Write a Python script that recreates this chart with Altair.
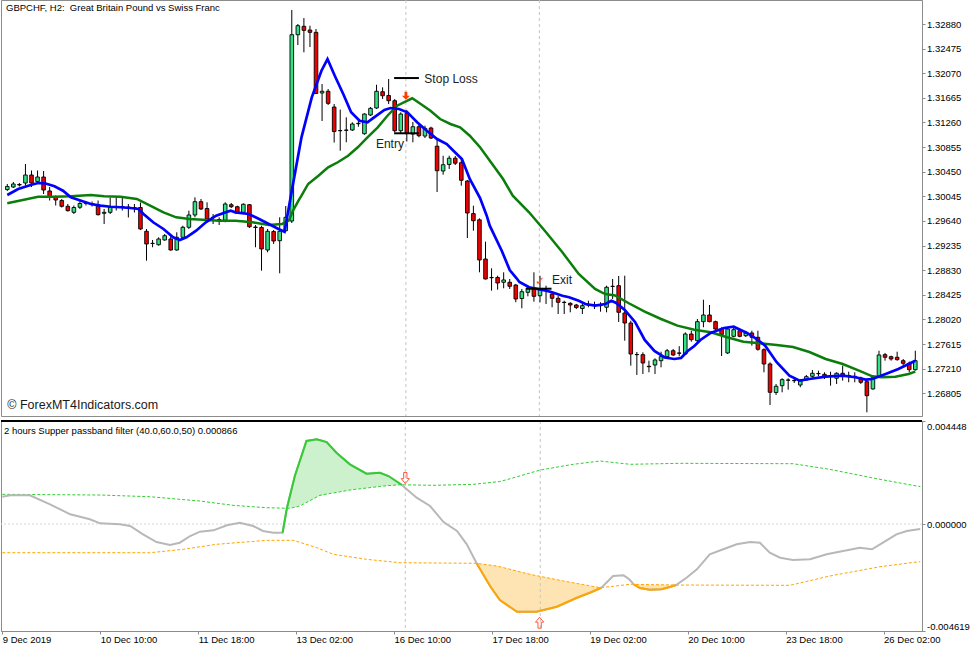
import json
import altair as alt
import pandas as pd

# ---------------- data ----------------
bars = list(range(151))

open_ = [1.30157, 1.30198, 1.30240, 1.30264, 1.30396, 1.30289, 1.30363, 1.30133, 1.30026, 1.29976,
         1.29881, 1.29782, 1.29865, 1.29927, 1.29927, 1.29891, 1.29766, 1.29782, 1.29869, 1.29878,
         1.29869, 1.29861, 1.29861, 1.29470, 1.29269, 1.29249, 1.29327, 1.29343, 1.29162, 1.29371,
         1.29536, 1.29738, 1.29957, 1.29845, 1.29697, 1.29664, 1.29651, 1.29907, 1.29874, 1.29782,
         1.29907, 1.29540, 1.29532, 1.29162, 1.29466, 1.29315, 1.29480, 1.29639, 1.32704, 1.32842,
         1.32781, 1.32743, 1.31745, 1.31773, 1.31514, 1.31128, 1.31131, 1.31136, 1.31240, 1.31075,
         1.31383, 1.31498, 1.31766, 1.31704, 1.31618, 1.31124, 1.31411, 1.31070, 1.31190, 1.31037,
         1.31169, 1.30870, 1.30462, 1.30569, 1.30672, 1.30598, 1.30297, 1.29761, 1.29659, 1.29014,
         1.28710, 1.28710, 1.28631, 1.28631, 1.28586, 1.28364, 1.28466, 1.28521, 1.28410, 1.28496,
         1.28438, 1.28368, 1.28302, 1.28285, 1.28257, 1.28200, 1.28257, 1.28257, 1.28249, 1.28220,
         1.28562, 1.28575, 1.28126, 1.27961, 1.27443, 1.27440, 1.27249, 1.27270, 1.27341, 1.27407,
         1.27505, 1.27468, 1.27451, 1.27780, 1.27670, 1.27983, 1.28093, 1.27983, 1.27862, 1.27468,
         1.27742, 1.27834, 1.27752, 1.27797, 1.27726, 1.27522, 1.27287, 1.26818, 1.26930, 1.27019,
         1.27015, 1.26941, 1.27024, 1.27084, 1.27130, 1.27117, 1.27084, 1.27052, 1.27134, 1.27098,
         1.27084, 1.27056, 1.26996, 1.26876, 1.27084, 1.27440, 1.27407, 1.27397, 1.27341, 1.27298,
         1.27193]
high = [1.30248, 1.30281, 1.30264, 1.30577, 1.30470, 1.30470, 1.30462, 1.30198, 1.30059, 1.30001,
        1.29919, 1.29894, 1.29976, 1.29960, 1.29960, 1.29976, 1.29837, 1.30026, 1.30042, 1.30034,
        1.29919, 1.29919, 1.29943, 1.29508, 1.29327, 1.29371, 1.29425, 1.29397, 1.29453, 1.29562,
        1.29809, 1.30029, 1.30001, 1.29947, 1.29754, 1.29700, 1.29947, 1.29935, 1.29891, 1.29930,
        1.29919, 1.29573, 1.29562, 1.29508, 1.29491, 1.29700, 1.29886, 1.33110, 1.32880, 1.32978,
        1.32852, 1.32798, 1.31893, 1.31811, 1.31564, 1.31473, 1.31345, 1.31263, 1.31289, 1.31411,
        1.31514, 1.31881, 1.31838, 1.31975, 1.31646, 1.31427, 1.31465, 1.31268, 1.31235, 1.31207,
        1.31190, 1.30988, 1.30713, 1.30713, 1.30708, 1.30692, 1.30314, 1.29891, 1.29683, 1.29299,
        1.28861, 1.28739, 1.28795, 1.28685, 1.28603, 1.28521, 1.28575, 1.28795, 1.28739, 1.28575,
        1.28466, 1.28410, 1.28328, 1.28302, 1.28274, 1.28274, 1.28328, 1.28312, 1.28302, 1.28575,
        1.28685, 1.28734, 1.28739, 1.27999, 1.27484, 1.27479, 1.27341, 1.27380, 1.27489, 1.27533,
        1.27533, 1.27580, 1.27808, 1.27834, 1.28027, 1.28344, 1.28257, 1.27999, 1.27891, 1.27891,
        1.27891, 1.27862, 1.27830, 1.27834, 1.27834, 1.27545, 1.27315, 1.26958, 1.27052, 1.27052,
        1.27040, 1.27040, 1.27106, 1.27188, 1.27177, 1.27150, 1.27160, 1.27150, 1.27259, 1.27160,
        1.27150, 1.27078, 1.27040, 1.27094, 1.27505, 1.27468, 1.27423, 1.27489, 1.27369, 1.27327,
        1.27505]
low = [1.30133, 1.30182, 1.30207, 1.30223, 1.30198, 1.30248, 1.30083, 1.29976, 1.29894, 1.29861,
       1.29795, 1.29754, 1.29837, 1.29894, 1.29878, 1.29730, 1.29590, 1.29754, 1.29812, 1.29812,
       1.29697, 1.29779, 1.29491, 1.28986, 1.29207, 1.29233, 1.29315, 1.29151, 1.29151, 1.29343,
       1.29508, 1.29700, 1.29820, 1.29644, 1.29590, 1.29573, 1.29618, 1.29853, 1.29754, 1.29754,
       1.29524, 1.29207, 1.28822, 1.29124, 1.29261, 1.28779, 1.29458, 1.29606, 1.32534, 1.32414,
       1.32501, 1.31728, 1.31284, 1.31547, 1.30930, 1.30796, 1.30934, 1.31120, 1.31190, 1.31059,
       1.31366, 1.31481, 1.31646, 1.31564, 1.31098, 1.31070, 1.30947, 1.30934, 1.31016, 1.31004,
       1.30988, 1.30116, 1.30401, 1.30495, 1.30560, 1.30220, 1.29359, 1.29480, 1.28795, 1.28677,
       1.28493, 1.28509, 1.28532, 1.28521, 1.28302, 1.28203, 1.28400, 1.28312, 1.28302, 1.28274,
       1.28220, 1.28109, 1.28109, 1.28137, 1.28191, 1.28109, 1.28220, 1.28191, 1.28147, 1.28137,
       1.28356, 1.27978, 1.27670, 1.27259, 1.27106, 1.27122, 1.27150, 1.27122, 1.27232, 1.27369,
       1.27418, 1.27413, 1.27435, 1.27654, 1.27644, 1.27891, 1.27973, 1.27834, 1.27418, 1.27451,
       1.27726, 1.27726, 1.27731, 1.27588, 1.27505, 1.27150, 1.26612, 1.26777, 1.26821, 1.26864,
       1.26974, 1.26904, 1.27012, 1.27061, 1.27084, 1.27040, 1.26930, 1.26958, 1.27012, 1.26986,
       1.26986, 1.26958, 1.26492, 1.26864, 1.27068, 1.27341, 1.27341, 1.27341, 1.27259, 1.27150,
       1.27177]
close = [1.30207, 1.30248, 1.30231, 1.30396, 1.30264, 1.30363, 1.30149, 1.30042, 1.29985, 1.29881,
         1.29809, 1.29861, 1.29927, 1.29935, 1.29919, 1.29743, 1.29782, 1.29861, 1.29878, 1.29869,
         1.29861, 1.29856, 1.29508, 1.29261, 1.29272, 1.29343, 1.29397, 1.29162, 1.29371, 1.29536,
         1.29738, 1.29957, 1.29837, 1.29672, 1.29700, 1.29656, 1.29919, 1.29874, 1.29766, 1.29914,
         1.29545, 1.29532, 1.29179, 1.29470, 1.29310, 1.29470, 1.29700, 1.32704, 1.32852, 1.32776,
         1.32743, 1.31737, 1.31773, 1.31575, 1.31111, 1.31124, 1.31136, 1.31235, 1.31246, 1.31399,
         1.31493, 1.31773, 1.31700, 1.31618, 1.31124, 1.31399, 1.31087, 1.31190, 1.31042, 1.31164,
         1.31004, 1.30466, 1.30565, 1.30672, 1.30590, 1.30309, 1.29771, 1.29644, 1.28998, 1.28685,
         1.28706, 1.28619, 1.28669, 1.28565, 1.28356, 1.28476, 1.28532, 1.28400, 1.28509, 1.28493,
         1.28368, 1.28302, 1.28298, 1.28257, 1.28216, 1.28246, 1.28262, 1.28252, 1.28246, 1.28549,
         1.28565, 1.28137, 1.27961, 1.27451, 1.27440, 1.27303, 1.27242, 1.27353, 1.27407, 1.27505,
         1.27435, 1.27463, 1.27780, 1.27687, 1.27983, 1.28093, 1.27983, 1.27862, 1.27772, 1.27862,
         1.27851, 1.27742, 1.27797, 1.27726, 1.27529, 1.27287, 1.26821, 1.26920, 1.27029, 1.27024,
         1.27012, 1.27012, 1.27078, 1.27134, 1.27127, 1.27084, 1.27081, 1.27134, 1.27084, 1.27094,
         1.27081, 1.26986, 1.26765, 1.27068, 1.27435, 1.27397, 1.27369, 1.27358, 1.27298, 1.27193,
         1.27341]

blue_bar = [0, 1.8, 4, 5.1, 6.2, 7.8, 9.2, 10.5, 12.2, 13.8, 15.4, 17.1, 18.7, 20.3, 21.7, 22.5, 24.1,
            25.8, 27.4, 28.5, 29.6, 31.2, 32.8, 34.5, 36.1, 36.9, 37.7, 39.9, 41.6, 43.2, 44.8, 45.8,
            47, 48.6, 50.3, 51.9, 52.9, 54.1, 55.5, 56.8, 58.2, 59.5, 60.6, 62.3, 63.3, 64.7, 66.1,
            67.7, 69.3, 71, 72.6, 73.7, 75.1, 76.4, 78.1, 79.2, 79.7, 81.7, 83, 84.1, 84.6, 86.2, 89,
            90, 91.7, 92.8, 94.4, 95.5, 97.1, 98.8, 99.8, 100.6, 102, 103.7, 105.3, 106.9, 108.6,
            110.2, 111.3, 112.4, 113.5, 114.5, 116.2, 118.4, 120, 122.2, 123.8, 125.2, 127.1, 129.2,
            130.9, 132.5, 135.2, 138, 140.1, 141.8, 142.9, 145.1, 147.2, 148.9, 150]
blue_val = [1.30067, 1.30166, 1.30236, 1.30264, 1.30259, 1.30210, 1.30138, 1.30029, 1.29973, 1.29919,
            1.29891, 1.29874, 1.29865, 1.29853, 1.29837, 1.29754, 1.29618, 1.29508, 1.29371, 1.29327,
            1.29371, 1.29480, 1.29618, 1.29726, 1.29782, 1.29809, 1.29782, 1.29754, 1.29672, 1.29590,
            1.29508, 1.29463, 1.30138, 1.31016, 1.31674, 1.32112, 1.32304, 1.32029, 1.31728, 1.31427,
            1.31289, 1.31263, 1.31345, 1.31465, 1.31498, 1.31482, 1.31427, 1.31263, 1.31124, 1.30988,
            1.30906, 1.30796, 1.30659, 1.30330, 1.30017, 1.29726, 1.29562, 1.29146, 1.28833, 1.28701,
            1.28636, 1.28549, 1.28493, 1.28466, 1.28410, 1.28384, 1.28328, 1.28274, 1.28246, 1.28274,
            1.28328, 1.28290, 1.28175, 1.27978, 1.27682, 1.27501, 1.27394, 1.27369, 1.27385, 1.27501,
            1.27583, 1.27682, 1.27797, 1.27879, 1.27900, 1.27797, 1.27698, 1.27588, 1.27315, 1.27094,
            1.27012, 1.27040, 1.27078, 1.27094, 1.27068, 1.27029, 1.27040, 1.27122, 1.27205, 1.27287,
            1.27341]

green_bar = [0, 5.1, 7.8, 10.5, 13.8, 16, 18.7, 21.4, 23.6, 25.8, 27.9, 30.1, 32.3, 35, 37.7, 40.5,
             43.2, 45.4, 46.5, 47.2, 48.1, 48.6, 49.7, 51.4, 53, 54.6, 56.3, 57.9, 59.5, 61.2, 62.8,
             64.4, 66.1, 66.9, 68.3, 69.9, 71.5, 73.2, 74.8, 76.4, 78.1, 81.9, 83.5, 86.2, 89, 91.7,
             94.4, 97.1, 98.2, 98.8, 100.4, 102.6, 105.3, 108, 110.7, 113.5, 116.2, 118.9, 121.6,
             124.3, 127.1, 129.8, 132.5, 135.2, 138, 140.7, 142.9, 144.5, 146.7, 148.9, 150]
green_val = [1.29930, 1.30039, 1.30039, 1.30045, 1.30067, 1.30045, 1.30039, 1.30001, 1.29891, 1.29782,
             1.29700, 1.29672, 1.29660, 1.29644, 1.29644, 1.29618, 1.29573, 1.29590, 1.29644, 1.29809,
             1.29973, 1.30055, 1.30248, 1.30384, 1.30522, 1.30605, 1.30713, 1.30852, 1.31016, 1.31180,
             1.31371, 1.31536, 1.31618, 1.31658, 1.31564, 1.31454, 1.31317, 1.31235, 1.31180, 1.31042,
             1.30852, 1.30330, 1.30055, 1.29782, 1.29453, 1.29124, 1.28767, 1.28521, 1.28466, 1.28438,
             1.28414, 1.28290, 1.28147, 1.28027, 1.27917, 1.27851, 1.27808, 1.27726, 1.27654, 1.27627,
             1.27599, 1.27566, 1.27484, 1.27369, 1.27287, 1.27177, 1.27084, 1.27068, 1.27078, 1.27122,
             1.27160]

# oscillator ("Supper passband filter")
filt_bar = [0, 1.3, 4.5, 7.8, 11.1, 14.3, 16, 19.2, 20.9, 23, 25.2, 27.4, 29, 30.7, 32.3, 34.5, 36.7,
            38.8, 41, 42.6, 44.3, 45.8, 46.5, 47.8, 49.7, 51.4, 53, 54.6, 56.8, 59.5, 61.7, 63.1, 65.3,
            65.8, 67.7, 69.9, 72.1, 74.3, 75.9, 77.5, 79.7, 81.3, 84.1, 87.3, 90.6, 93.9, 96, 97.9,
            99.8, 101.5, 102.4, 103.2, 104.2, 105.8, 107.7, 109.1, 110.1, 111.8, 113.5, 115.6, 117.8,
            120, 122.2, 123.8, 125.4, 127.1, 129.2, 132, 134.7, 137.4, 140.1, 142.1, 143.9, 146.1,
            147.8, 149.7, 150]
filt_val = [0.001179, 0.001239, 0.001239, 0.000851, 0.000419, 0.000203, 0.000030, -0.000013, -0.000086,
            -0.000445, -0.000777, -0.000907, -0.000807, -0.000518, -0.000332, -0.000272, -0.000056,
            0.000056, -0.000086, -0.000302, -0.000376, -0.000376, 0.000680, 0.002072, 0.003584,
            0.003657, 0.003540, 0.003078, 0.002578, 0.002172, 0.002215, 0.002072, 0.001684, 0.001567,
            0.001136, 0.000777, 0.000086, -0.000302, -0.000876, -0.001697, -0.002677, -0.003281,
            -0.003787, -0.003787, -0.003571, -0.003182, -0.002966, -0.002750, -0.002245, -0.002215,
            -0.002375, -0.002612, -0.002763, -0.002837, -0.002819, -0.002720, -0.002632, -0.002319,
            -0.001956, -0.001308, -0.001092, -0.000876, -0.000777, -0.000807, -0.001239, -0.001455,
            -0.001554, -0.001524, -0.001308, -0.001166, -0.001023, -0.001092, -0.000807, -0.000445,
            -0.000302, -0.000229, -0.000220]

up_bar = [0, 16, 24.1, 32.3, 37.7, 43.2, 47, 48.6, 51.9, 56.8, 62.3, 65, 70.4, 77, 81.3, 83, 87.9,
          93.3, 97.7, 102.6, 110.7, 129.2, 135.2, 143.4, 149.4, 150]
up_val = [0.001282, 0.001252, 0.001179, 0.000993, 0.000807, 0.000704, 0.000678, 0.000777, 0.001239,
          0.001468, 0.001641, 0.001697, 0.001671, 0.001714, 0.001835, 0.001956, 0.002332, 0.002578,
          0.002720, 0.002578, 0.002621, 0.002604, 0.002362, 0.001930, 0.001641, 0.001619]

lo_bar = [0, 24.1, 29.6, 35, 43.2, 47.6, 51.4, 54.1, 59.5, 65, 77.5, 80.8, 86.2, 91.7, 97.7, 102.6,
          110.7, 128.7, 135.2, 143.4, 149.4, 150]
lo_val = [-0.001239, -0.001239, -0.001092, -0.000876, -0.000704, -0.000704, -0.001023, -0.001308,
          -0.001524, -0.001671, -0.001697, -0.001813, -0.002172, -0.002461, -0.002750, -0.002604,
          -0.002634, -0.002647, -0.002245, -0.001844, -0.001641, -0.001628]

# shaded zones: filter line vs band
g_bar = [46.5, 47.8, 49.7, 51.4, 53, 54.6, 56.8, 59.5, 61.7, 63.1, 65.3]
g_top = [0.000680, 0.002072, 0.003584, 0.003657, 0.003540, 0.003078, 0.002578, 0.002172, 0.002215,
         0.002072, 0.001684]
g_bot = [0.000680, 0.000727, 0.000928, 0.001166, 0.001295, 0.001369, 0.001468, 0.001554, 0.001628,
         0.001654, 0.001684]
o1_bar = [77.5, 79.7, 81.3, 84.1, 87.3, 90.6, 93.9, 96, 97.9]
o1_top = [-0.001697, -0.001770, -0.001830, -0.002030, -0.002220, -0.002400, -0.002570, -0.002660,
          -0.002750]
o1_bot = [-0.001697, -0.002677, -0.003281, -0.003787, -0.003787, -0.003571, -0.003182, -0.002966,
          -0.002750]
o2_bar = [103.2, 104.2, 105.8, 107.7, 109.1, 110.1]
o2_top = [-0.002612, -0.002614, -0.002618, -0.002623, -0.002628, -0.002632]
o2_bot = [-0.002612, -0.002763, -0.002837, -0.002819, -0.002720, -0.002632]

green_seg = (45.8, 65.3)
orange_segs = [(77.5, 97.9), (103.2, 110.1)]

# annotations
ann_x1 = [63.9, 63.9, 85.7]
ann_x2 = [68.0, 68.0, 89.9]
ann_y = [1.31991, 1.31082, 1.28525]
ann_text = ["Stop Loss", "Entry", "Exit"]
ann_tx = [68.9, 60.9, 90.0]
ann_ty = [1.31983, 1.30906, 1.28664]
sell_arrow = (65.85, 1.31700)
check_mark = (88.0, 1.28652)
vlines = [65.85, 87.9]
osc_down_arrow = (65.85, 0.001986)
osc_up_arrow = (87.8, -0.004261)

x_tick_bars = [0, 16, 32, 48, 64, 80, 96, 112, 128, 144]
x_tick_labels = ["9 Dec 2019", "10 Dec 10:00", "11 Dec 18:00", "13 Dec 02:00", "16 Dec 10:00",
                 "17 Dec 18:00", "19 Dec 02:00", "20 Dec 10:00", "23 Dec 18:00", "26 Dec 02:00"]
price_ticks = [1.26805, 1.27210, 1.27615, 1.28020, 1.28425, 1.28830, 1.29235, 1.29640, 1.30045,
               1.30450, 1.30855, 1.31260, 1.31665, 1.32070, 1.32475, 1.32880]
osc_ticks = [-0.004619, 0.0, 0.004448]

title_main = "GBPCHF, H2:\u00a0 Great Britain Pound vs Swiss Franc"
title_osc = "2 hours Supper passband filter (40.0,60.0,50) 0.000866"
copyright_text = "\u00a9 ForexMT4Indicators.com"

# ---------------- chart ----------------
FONT = "Liberation Sans"
W, H1, H2 = 921, 416, 210
G_CANDLE, R_CANDLE = "#33e285", "#f20000"
PAD = {"left": -3, "top": -1, "right": 0, "bottom": 0}

xs = alt.Scale(domain=[-0.212, 150.28], nice=False, zero=False)
ys = alt.Scale(domain=[1.26431, 1.33275], nice=False, zero=False)
osc_s = alt.Scale(domain=[-0.004619, 0.004448], nice=False, zero=False)

yaxis = alt.Axis(orient="right", values=price_ticks, format=".5f", title=None, grid=False,
                 tickSize=3, labelPadding=1.5, labelFontSize=9.5, labelFont=FONT,
                 labelOverlap=False, labelFlush=False)
oaxis = alt.Axis(orient="right", values=osc_ticks, title=None, grid=False, tickSize=3,
                 labelPadding=1.5, labelFontSize=9.5, labelFont=FONT, labelFlush=True,
                 labelOverlap=False,
                 labelExpr="replace(format(datum.value, '.6f'), '\u2212', '-')")
xaxis = alt.Axis(values=x_tick_bars, title=None, grid=False, tickSize=3, labelPadding=0,
                 labelAlign="left", labelFontSize=9.5, labelFont=FONT, labelFlush=False,
                 labelOverlap=False,
                 labelExpr=json.dumps(x_tick_labels) + "[round(datum.value/16)]")


def MX(f):
    return alt.X(f, type="quantitative", scale=xs, axis=None)


def MY(f):
    return alt.Y(f, type="quantitative", scale=ys, axis=yaxis)


def LX(f):
    return alt.X(f, type="quantitative", scale=xs, axis=xaxis)


def LY(f):
    return alt.Y(f, type="quantitative", scale=osc_s, axis=oaxis)


candles = pd.DataFrame({"i": bars, "o": open_, "h": high, "l": low, "c": close})
candles["dir"] = ["up" if c >= o else "down" for o, c in zip(open_, close)]

wicks = alt.Chart(candles).mark_rule(color="#000", strokeWidth=1, clip=True).encode(
    x=MX("i"), y=MY("l"), y2=alt.Y2("h"))
bodies = alt.Chart(candles).mark_bar(width=3.6, stroke="#000", strokeWidth=0.9, clip=True).encode(
    x=MX("i"), y=MY("o"), y2=alt.Y2("c"),
    color=alt.Color("dir:N", scale=alt.Scale(domain=["up", "down"], range=[G_CANDLE, R_CANDLE]),
                    legend=None))

green_ma = alt.Chart(pd.DataFrame({"i": green_bar, "v": green_val})).mark_line(
    color="#0b7d0b", strokeWidth=2.5, clip=True).encode(x=MX("i"), y=MY("v"))
blue_ma = alt.Chart(pd.DataFrame({"i": blue_bar, "v": blue_val})).mark_line(
    color="#0000ff", strokeWidth=2.7, clip=True).encode(x=MX("i"), y=MY("v"))

vl_df = pd.DataFrame({"i": vlines})
vline_main = alt.Chart(vl_df).mark_rule(color="#c4c4c4", strokeWidth=1, strokeDash=[3, 3]).encode(
    x=MX("i"))

ann_df = pd.DataFrame({"x1": ann_x1, "x2": ann_x2, "y": ann_y})
ann_lines = alt.Chart(ann_df).mark_rule(color="#000", strokeWidth=2).encode(
    x=MX("x1"), x2=alt.X2("x2"), y=MY("y"))
ann_t_df = pd.DataFrame({"x": ann_tx, "y": ann_ty, "t": ann_text})
ann_texts = alt.Chart(ann_t_df).mark_text(align="left", baseline="middle", font=FONT, fontSize=12,
                                          color="#222").encode(x=MX("x"), y=MY("y"), text="t:N")

DOWN_FILLED = "M-0.35,-1L0.35,-1L0.35,0L1,0L0,1L-1,0L-0.35,0Z"
arrow_df = pd.DataFrame({"x": [sell_arrow[0]], "y": [sell_arrow[1]]})
sell_mark = alt.Chart(arrow_df).mark_point(shape=DOWN_FILLED, filled=True, size=64, color="#ff3c00",
                                           opacity=1).encode(x=MX("x"), y=MY("y"))
chk_df = pd.DataFrame({"x": [check_mark[0]], "y": [check_mark[1]], "t": ["\u2713"]})
chk = alt.Chart(chk_df).mark_text(font="DejaVu Sans", fontSize=12, color="#ff5020",
                                  baseline="middle").encode(x=MX("x"), y=MY("y"), text="t:N")

hdr = alt.Chart(pd.DataFrame({"t": [title_main]})).mark_text(
    align="left", baseline="middle", font=FONT, fontSize=9.5, color="#000").encode(
    x=alt.value(5), y=alt.value(7.5), text="t:N")
cpr = alt.Chart(pd.DataFrame({"t": [copyright_text]})).mark_text(
    align="left", baseline="middle", font=FONT, fontSize=12.5, color="#1a1a1a").encode(
    x=alt.value(6.3), y=alt.value(404.5), text="t:N")

main = alt.layer(vline_main, wicks, bodies, green_ma, blue_ma, ann_lines, ann_texts, sell_mark,
                 chk, hdr, cpr).properties(width=W, height=H1)

# ---- oscillator panel
filt_df = pd.DataFrame({"i": filt_bar, "v": filt_val})
g_line_df = filt_df[(filt_df.i >= green_seg[0]) & (filt_df.i <= green_seg[1])]
o_parts = []
for k, (a, b) in enumerate(orange_segs):
    part = filt_df[(filt_df.i >= a) & (filt_df.i <= b)].copy()
    part["seg"] = k
    o_parts.append(part)
o_line_df = pd.concat(o_parts)

g_area = alt.Chart(pd.DataFrame({"i": g_bar, "t": g_top, "b": g_bot})).mark_area(
    color="#cdf1cd", opacity=1).encode(x=LX("i"), y=LY("t"), y2=alt.Y2("b"))
o_area_df = pd.concat([
    pd.DataFrame({"i": o1_bar, "t": o1_top, "b": o1_bot, "seg": 0}),
    pd.DataFrame({"i": o2_bar, "t": o2_top, "b": o2_bot, "seg": 1})])
o_area = alt.Chart(o_area_df).mark_area(color="#ffe4b3", opacity=1).encode(
    x=LX("i"), y=LY("t"), y2=alt.Y2("b"), detail="seg:N")

zero_line = alt.Chart(pd.DataFrame({"v": [0.0]})).mark_rule(
    color="#d6d6d6", strokeWidth=1, strokeDash=[2, 2]).encode(y=LY("v"))
up_line = alt.Chart(pd.DataFrame({"i": up_bar, "v": up_val})).mark_line(
    color="#32cd32", strokeWidth=1, strokeDash=[3, 2]).encode(x=LX("i"), y=LY("v"))
lo_line = alt.Chart(pd.DataFrame({"i": lo_bar, "v": lo_val})).mark_line(
    color="#ffa500", strokeWidth=1, strokeDash=[3, 2]).encode(x=LX("i"), y=LY("v"))
filt_line = alt.Chart(filt_df).mark_line(color="#b8b8b8", strokeWidth=2).encode(
    x=LX("i"), y=LY("v"))
g_line = alt.Chart(g_line_df).mark_line(color="#32cd32", strokeWidth=2).encode(
    x=LX("i"), y=LY("v"))
o_line = alt.Chart(o_line_df).mark_line(color="#ffa500", strokeWidth=2).encode(
    x=LX("i"), y=LY("v"), detail="seg:N")
vline_osc = alt.Chart(vl_df).mark_rule(color="#c4c4c4", strokeWidth=1, strokeDash=[3, 3]).encode(
    x=LX("i"))

DOWN_HOLLOW = "M-0.3,-1L0.3,-1L0.3,0.1L0.75,0.1L0,1L-0.75,0.1L-0.3,0.1Z"
UP_HOLLOW = "M-0.3,1L0.3,1L0.3,-0.1L0.75,-0.1L0,-1L-0.75,-0.1L-0.3,-0.1Z"
dn_arrow = alt.Chart(pd.DataFrame({"x": [osc_down_arrow[0]], "y": [osc_down_arrow[1]]})).mark_point(
    shape=DOWN_HOLLOW, filled=False, size=121, stroke="#ff5a40", strokeWidth=1, opacity=1).encode(
    x=LX("x"), y=LY("y"))
up_arrow = alt.Chart(pd.DataFrame({"x": [osc_up_arrow[0]], "y": [osc_up_arrow[1]]})).mark_point(
    shape=UP_HOLLOW, filled=False, size=121, stroke="#ff5a40", strokeWidth=1, opacity=1).encode(
    x=LX("x"), y=LY("y"))

top_border = alt.Chart(pd.DataFrame({"k": [0]})).mark_rule(color="#000", strokeWidth=2).encode(
    x=alt.value(0), x2=alt.value(W), y=alt.value(0))
osc_hdr = alt.Chart(pd.DataFrame({"t": [title_osc]})).mark_text(
    align="left", baseline="middle", font=FONT, fontSize=9.5, color="#000").encode(
    x=alt.value(3), y=alt.value(9.5), text="t:N")

lower = alt.layer(g_area, o_area, vline_osc, zero_line, up_line, lo_line, filt_line, g_line, o_line,
                  dn_arrow, up_arrow, top_border, osc_hdr).properties(width=W, height=H2)

chart = alt.vconcat(main, lower, spacing=2, padding=PAD, background="white").configure_view(
    stroke="#8c8c8c", strokeWidth=1).configure_axis(
    domainColor="#8c8c8c", tickColor="#8c8c8c", labelColor="#000")

chart.save("out.html", embed_options={"renderer": "svg", "actions": False})
